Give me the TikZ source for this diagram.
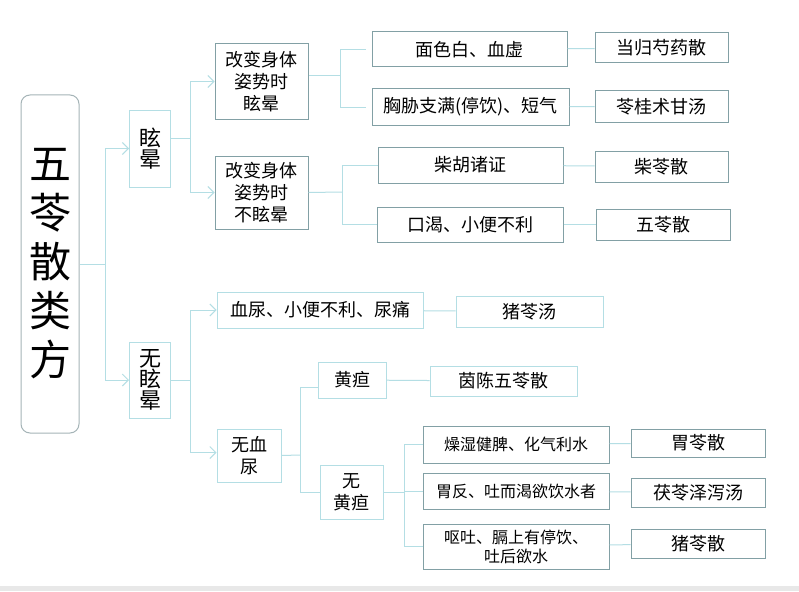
\documentclass[tikz,border=0pt]{standalone}
\usepackage{fontspec}
\setmainfont{Noto Sans CJK SC}
\usetikzlibrary{arrows.meta}
\definecolor{lc}{RGB}{180,222,228}
\definecolor{dk}{RGB}{130,160,165}
\definecolor{rt}{RGB}{165,180,183}
\tikzset{
  box/.style={draw=#1, line width=1pt, inner sep=0pt, align=center, text=black},
  lbox/.style={box=lc},
  dbox/.style={box=dk},
  conn/.style={draw=lc, line width=1pt},
  arr/.style={-{Straight Barb[length=6pt,width=12pt,line width=1pt]}},
  f18/.style={font=\fontsize{18pt}{22pt}\selectfont},
  f16/.style={font=\fontsize{16pt}{20pt}\selectfont},
  f22/.style={font=\fontsize{22pt}{21pt}\selectfont},
}
\begin{document}
\begin{tikzpicture}[x=1pt,y=-1pt]
\useasboundingbox (0,0) rectangle (799,591);
\fill[white] (0,0) rectangle (799,591);
\fill[black!9] (0,586) rectangle (799,591);
% root
\node[box=rt, rounded corners=9pt, minimum width=58pt, minimum height=338pt,
  font=\fontsize{42pt}{49pt}\selectfont] (root) at (50,264) {五\\苓\\散\\类\\方};
% level 1
\node[lbox,f22,minimum width=41pt,minimum height=77pt] (xy) at (150,148.5) {眩\\晕};
\node[lbox,f22,minimum width=41pt,minimum height=76pt] (wxy) at (150,380) {无\\眩\\晕};
% level 2 upper
\node[dbox,f18,minimum width=93pt,minimum height=75pt] (g1) at (261.5,81.5) {改变身体\\姿势时\\眩晕};
\node[dbox,f18,minimum width=93pt,minimum height=73pt] (g2) at (261.5,192.5) {改变身体\\姿势时\\不眩晕};
% level 3 upper
\node[dbox,f18,minimum width=195pt,minimum height=35pt] (a1) at (469.5,49.5) {面色白、血虚};
\node[dbox,f18,minimum width=197pt,minimum height=36pt] (a2) at (470.5,107) {胸胁支满(停饮)、短气};
\node[dbox,f18,minimum width=185pt,minimum height=36pt] (a3) at (470.5,165) {柴胡诸证};
\node[dbox,f18,minimum width=186pt,minimum height=35pt] (a4) at (470,224.5) {口渴、小便不利};
\node[dbox,f18,minimum width=133pt,minimum height=30pt] (b1) at (661.5,48) {当归芍药散};
\node[dbox,f18,minimum width=133pt,minimum height=31pt] (b2) at (661.5,106.5) {苓桂术甘汤};
\node[dbox,f18,minimum width=133pt,minimum height=31pt] (b3) at (661.5,166.5) {柴苓散};
\node[dbox,f18,minimum width=134pt,minimum height=31pt] (b4) at (663,224.5) {五苓散};
% lower
\node[lbox,f18,minimum width=206pt,minimum height=36pt] (xn) at (320,310) {血尿、小便不利、尿痛};
\node[lbox,f18,minimum width=147pt,minimum height=31pt] (zlt) at (529.5,311.5) {猪苓汤};
\node[lbox,f18,minimum width=64pt,minimum height=53pt] (wxn) at (249,455.5) {无血\\尿};
\node[lbox,f18,minimum width=68pt,minimum height=36pt] (hd) at (352,380) {黄疸};
\node[lbox,f18,minimum width=147pt,minimum height=30pt] (yc) at (503.5,381) {茵陈五苓散};
\node[lbox,f18,minimum width=63pt,minimum height=54pt] (whd) at (351.5,492) {无\\黄疸};
\node[dbox,f16,minimum width=186pt,minimum height=37pt] (c1) at (516,444.5) {燥湿健脾、化气利水};
\node[dbox,f16,minimum width=186pt,minimum height=36pt] (c2) at (516,491) {胃反、吐而渴欲饮水者};
\node[dbox,font=\fontsize{16pt}{19pt}\selectfont,minimum width=186pt,minimum height=45pt] (c3) at (516,546.5) {呕吐、膈上有停饮、\\吐后欲水};
\node[dbox,f18,minimum width=134pt,minimum height=28pt] (d1) at (698,443) {胃苓散};
\node[dbox,f18,minimum width=134pt,minimum height=29pt] (d2) at (698,492.5) {茯苓泽泻汤};
\node[dbox,f18,minimum width=134pt,minimum height=29pt] (d3) at (698,543.5) {猪苓散};
% junctions
\coordinate (j1) at (105,264);
\coordinate (j2) at (190,138);
\coordinate (j3) at (340,76);
\coordinate (j4) at (342,192);
\coordinate (j5) at (190,380);
\coordinate (j6) at (300,455);
\coordinate (j7) at (404,492);
% connectors
\draw[conn] (root.east) -- (j1);
\draw[conn,arr] (j1) |- (xy.west);
\draw[conn,arr] (j1) |- (wxy.west);
\draw[conn] (xy.east |- j2) -- (j2);
\draw[conn,arr] (j2) |- (g1.west);
\draw[conn,arr] (j2) |- (g2.west);
\draw[conn] (g1.east |- j3) -- (j3);
\draw[conn,shorten >=6pt] (j3) |- (a1.west);
\draw[conn,shorten >=6pt] (j3) |- (a2.west);
\draw[conn] (g2.east) -- (j4);
\draw[conn] (j4) |- (a3.west);
\draw[conn] (j4) |- (a4.west);
\draw[conn] (a1) -- (b1);
\draw[conn] (a2) -- (b2);
\draw[conn] (a3) -- (b3);
\draw[conn] (a4) -- (b4);
\draw[conn] (wxy.east) -- (j5);
\draw[conn,arr] (j5) |- (xn.west);
\draw[conn,arr] (j5) |- ([yshift=3pt]wxn.west);
\draw[conn] (xn) -- (zlt);
\draw[conn] (wxn.east) -- (j6);
\draw[conn] (j6) |- ([yshift=-7pt]hd.west);
\draw[conn] (j6) |- (whd.west);
\draw[conn] (hd) -- (yc);
\draw[conn] (whd.east) -- (j7);
\draw[conn] (j7) |- (c1.west);
\draw[conn] (j7) |- (c2.west);
\draw[conn] (j7) |- (c3.west);
\draw[conn] (c1) -- (d1);
\draw[conn] (c2) -- (d2);
\draw[conn] (c3) -- (d3);
\end{tikzpicture}
\end{document}
